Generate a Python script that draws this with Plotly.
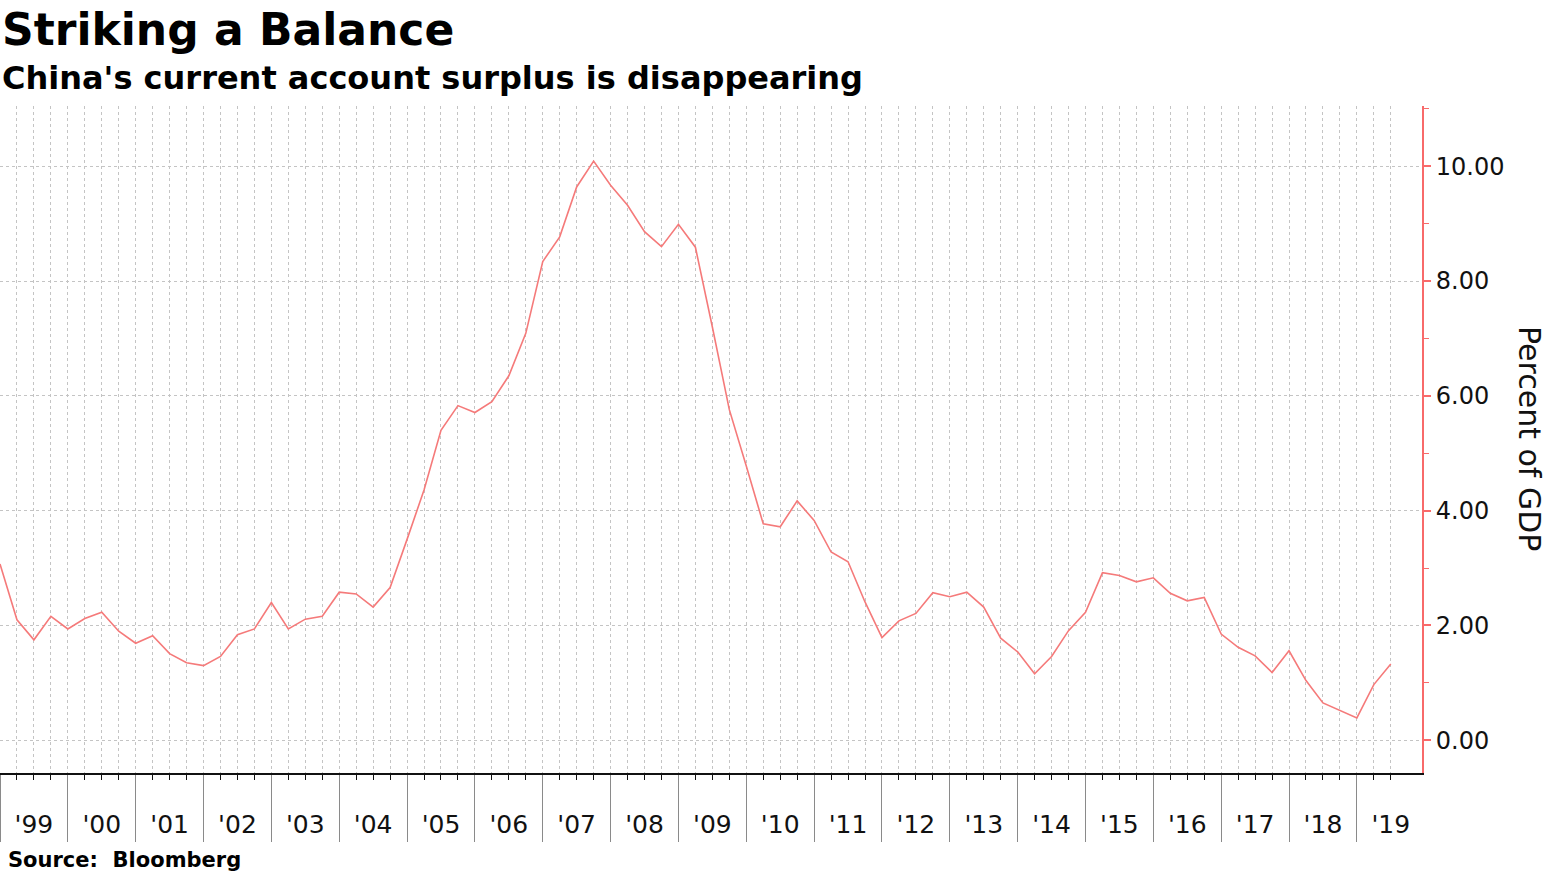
import plotly.graph_objects as go

# ---- data ----
start_year = 1999  # first observation sits on the 1998-Q4 / 1999 boundary
quarter_step = 0.25
surplus_pct_gdp = [
    3.07, 2.10, 1.75, 2.16, 1.94, 2.12, 2.23, 1.90, 1.69, 1.82,
    1.51, 1.35, 1.30, 1.46, 1.84, 1.94, 2.40, 1.94, 2.11, 2.16,
    2.58, 2.55, 2.32, 2.66, 3.50, 4.36, 5.40, 5.83, 5.71, 5.90,
    6.35, 7.09, 8.34, 8.77, 9.64, 10.09, 9.67, 9.32, 8.86, 8.60,
    8.99, 8.59, 7.20, 5.76, 4.78, 3.77, 3.72, 4.17, 3.83, 3.28,
    3.11, 2.41, 1.79, 2.08, 2.21, 2.57, 2.50, 2.58, 2.32, 1.78,
    1.54, 1.16, 1.46, 1.91, 2.23, 2.92, 2.87, 2.76, 2.83, 2.56,
    2.43, 2.49, 1.85, 1.62, 1.47, 1.18, 1.56, 1.04, 0.65, 0.52,
    0.39, 0.97, 1.33,
]
years = list(range(1999, 2020))
year_labels = ["'99", "'00", "'01", "'02", "'03", "'04", "'05", "'06", "'07", "'08",
               "'09", "'10", "'11", "'12", "'13", "'14", "'15", "'16", "'17", "'18", "'19"]
y_ticks = [0, 2, 4, 6, 8, 10]

x_vals = [start_year + i * quarter_step for i in range(len(surplus_pct_gdp))]
x_range = [1999, 2019.96]
y_range = [-0.57, 11.05]

LINE = "#f57a7a"
AXIS_RED = "#f86a6a"
GRID = "#c4c4c4"
FONT = "DejaVu Sans"

fig = go.Figure()
fig.add_trace(go.Scatter(x=x_vals, y=surplus_pct_gdp, mode="lines",
                         line=dict(color=LINE, width=1.6), xaxis="x", yaxis="y",
                         showlegend=False))
# invisible companion trace so the label axis is drawn
fig.add_trace(go.Scatter(x=x_vals, y=surplus_pct_gdp, mode="lines",
                         line=dict(color="rgba(0,0,0,0)", width=0), xaxis="x2", yaxis="y",
                         showlegend=False, hoverinfo="skip"))

fig.update_layout(
    width=1550, height=871,
    margin=dict(l=0, r=128, t=106, b=98),
    paper_bgcolor="white", plot_bgcolor="white",
    font=dict(family=FONT, color="#111"),
    xaxis=dict(
        range=x_range, showline=True, linecolor="#111", linewidth=2,
        tickmode="array", tickvals=years, ticks="outside", ticklen=67,
        tickcolor="#8a8a8a", tickwidth=1, showticklabels=False,
        showgrid=True, gridcolor=GRID, griddash="3px,3px", gridwidth=1,
        zeroline=False,
        minor=dict(tickmode="array", tickvals=x_vals, ticks="outside", ticklen=5,
                   tickcolor="#111", tickwidth=1, showgrid=True,
                   gridcolor=GRID, griddash="3px,3px", gridwidth=1),
    ),
    xaxis2=dict(
        range=x_range, overlaying="x", anchor="y", side="bottom",
        showline=False, showgrid=False, zeroline=False,
        tickmode="array", tickvals=[y + 0.5 for y in years], ticktext=year_labels,
        ticks="outside", ticklen=29, tickcolor="rgba(0,0,0,0)",
        tickfont=dict(family=FONT, size=25, color="#111"),
    ),
    yaxis=dict(
        range=y_range, side="right", showline=True, linecolor=AXIS_RED, linewidth=2,
        tickmode="array", tickvals=y_ticks, tickformat=".2f",
        ticks="outside", ticklen=7, tickwidth=2, tickcolor=AXIS_RED,
        tickfont=dict(family=FONT, size=24, color="#111"),
        showgrid=True, gridcolor=GRID, griddash="3px,3px", gridwidth=1,
        zeroline=False,
        minor=dict(tickvals=[1, 3, 5, 7, 9, 11], ticks="outside", ticklen=5,
                   tickcolor=AXIS_RED, tickwidth=1, showgrid=False),
    ),
    annotations=[
        dict(text="<b>Striking a Balance</b>", xref="paper", yref="paper",
             x=0, y=1.114, xanchor="left", yanchor="middle", showarrow=False,
             font=dict(family=FONT, size=44, color="#000")),
        dict(text="<b>China's current account surplus is disappearing</b>",
             xref="paper", yref="paper", x=0, y=1.042, xanchor="left",
             yanchor="middle", showarrow=False,
             font=dict(family=FONT, size=32, color="#000")),
        dict(text="<b>Source:  Bloomberg</b>", xref="paper", yref="paper",
             x=0.004, y=-0.13, xanchor="left", yanchor="middle", showarrow=False,
             font=dict(family=FONT, size=21, color="#000")),
        dict(text="Percent of GDP", xref="paper", yref="paper", x=1.076, y=0.502,
             xanchor="center", yanchor="middle", textangle=90, showarrow=False,
             font=dict(family=FONT, size=30, color="#111")),
    ],
)

fig.write_html(
    "out.html",
    config={"displayModeBar": False},
    post_script="document.body.style.margin='0';document.body.style.padding='0';"
                "document.body.style.overflow='hidden';",
)
